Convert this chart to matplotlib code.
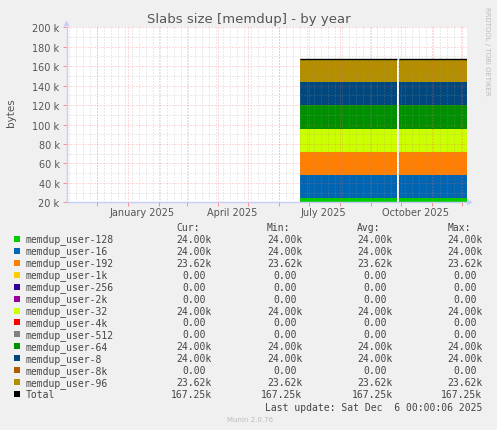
import matplotlib
matplotlib.use("Agg")
import matplotlib.pyplot as plt
import matplotlib.dates as mdates
from matplotlib.patches import Rectangle, Polygon
import numpy as np
import datetime as dt

plt.rcParams["lines.scale_dashes"] = False

# ---------------- data ----------------
names = ["memdup_user-128", "memdup_user-16", "memdup_user-192", "memdup_user-1k",
         "memdup_user-256", "memdup_user-2k", "memdup_user-32", "memdup_user-4k",
         "memdup_user-512", "memdup_user-64", "memdup_user-8", "memdup_user-8k",
         "memdup_user-96"]
colors = ["#00CC00", "#0066B3", "#FF8000", "#FFCC00", "#330099", "#990099",
          "#CCFF00", "#FF0000", "#808080", "#008F00", "#00487D", "#B35A00",
          "#B38F00"]
values = [24000, 24000, 23625, 0, 0, 0, 24000, 0, 0, 24000, 24000, 0, 23625]
cur_txt = ["24.00k", "24.00k", "23.62k", "0.00", "0.00", "0.00", "24.00k", "0.00",
           "0.00", "24.00k", "24.00k", "0.00", "23.62k"]
min_txt = cur_txt
avg_txt = cur_txt
max_txt = cur_txt
total_txt = "167.25k"
# data segments (start, end) - gap between them
segments = [("2025-06-22", "2025-09-27"), ("2025-09-29", "2025-12-06")]
x_start, x_end = "2024-11-01", "2025-12-06"
month_labels = [("2025-01-16", "January 2025"), ("2025-04-16", "April 2025"),
                ("2025-07-16", "July 2025"), ("2025-10-16", "October 2025")]
y_ticks = [20000, 40000, 60000, 80000, 100000, 120000, 140000, 160000, 180000, 200000]
y_ticklabels = ["20 k", "40 k", "60 k", "80 k", "100 k", "120 k", "140 k", "160 k",
                "180 k", "200 k"]

# ---------------- figure ----------------
W, H = 497, 431
fig = plt.figure(figsize=(W / 100, H / 100), dpi=100, facecolor="#F0F0F0")
L, R, T, B = 66.5, 466.5, 28.3, 203.3
ax = fig.add_axes([L / W, 1 - B / H, (R - L) / W, (B - T) / H])
ax.set_facecolor("white")

d = lambda s: mdates.date2num(dt.datetime.strptime(s, "%Y-%m-%d"))
ax.set_xlim(d(x_start), d(x_end))
ax.set_ylim(20000, 200000)

# stacked areas
for s0, s1 in segments:
    xs = [d(s0), d(s1)]
    base = 0.0
    for v, c in zip(values, colors):
        if v > 0:
            ax.fill_between(xs, [base, base], [base + v, base + v], color=c,
                            linewidth=0, zorder=2)
        base += v
    ax.plot(xs, [base, base], color="black", lw=1.0, zorder=4,
            solid_capstyle="butt")

# grid
dash = (0, (0.72, 1.44))
minor_c = (0.6, 0.6, 0.6, 0.4)
major_c = (1.0, 0.35, 0.35, 0.45)
for yv in range(30000, 200000, 20000):
    ax.axhline(yv, color=minor_c, lw=0.72, ls=dash, zorder=3)
for yv in y_ticks:
    ax.axhline(yv, color=major_c, lw=0.72, ls=dash, zorder=3)
day = dt.date(2024, 11, 3)
endd = dt.date(2025, 12, 6)
while day <= endd:
    ax.axvline(mdates.date2num(day), color=minor_c, lw=0.72, ls=dash, zorder=3)
    day += dt.timedelta(days=7)
months = []
y_, m_ = 2024, 12
while (y_, m_) <= (2025, 12):
    months.append(mdates.date2num(dt.date(y_, m_, 1)))
    m_ += 1
    if m_ > 12:
        m_ = 1
        y_ += 1
for mx in months:
    ax.axvline(mx, color=major_c, lw=0.72, ls=dash, zorder=3)

# axes styling
for sp in ["top", "right"]:
    ax.spines[sp].set_visible(False)
for sp in ["left", "bottom"]:
    ax.spines[sp].set_color("#C8CCF8")
    ax.spines[sp].set_linewidth(1.0)
    ax.spines[sp].set_zorder(5)

ax.set_yticks(y_ticks)
ax.set_yticklabels(y_ticklabels)
ax.tick_params(axis="y", length=3, width=0.7, color=(1, 0.3, 0.3, 0.6), pad=2,
               labelsize=7, labelcolor="#555555")
ax.set_xticks(months)
ax.set_xticklabels([])
ax.tick_params(axis="x", length=3, width=0.7, color=(1, 0.3, 0.3, 0.6))
for ds, lab in month_labels:
    ax.text(d(ds), -0.055, lab, transform=ax.get_xaxis_transform(), ha="center",
            va="center", fontsize=7, color="#555555", clip_on=False)

# axis arrows
fig.patches.append(Polygon([[L - 3, H - T + 1], [L + 3, H - T + 1], [L, H - T + 7]],
                           closed=True, transform=None, facecolor="#C8CCF8",
                           edgecolor="none"))
fig.patches.append(Polygon([[R + 0.5, H - B + 3], [R + 0.5, H - B - 3], [R + 6.5, H - B]],
                           closed=True, transform=None, facecolor="#C8CCF8",
                           edgecolor="none"))

# titles
fig.text(0.5, 1 - 19 / H, "Slabs size [memdup] - by year", ha="center", va="center",
         fontsize=9.5, color="#555555")
fig.text(11 / W, 1 - 113 / H, "bytes", rotation=90, ha="center", va="center",
         fontsize=7.5, color="#555555")
fig.text(487 / W, 1 - 7 / H, "RRDTOOL / TOBI OETIKER", rotation=270, ha="center",
         va="top", fontsize=5, color="#BBBBBB")

# legend
mono = "DejaVu Sans Mono"
fs = 7.0
tc = "#444444"
def ty(y):
    return 1 - y / H
hy = 228.3
fig.text(176.7 / W, ty(hy), "Cur:", family=mono, fontsize=fs, color=tc, va="center")
fig.text(266.7 / W, ty(hy), "Min:", family=mono, fontsize=fs, color=tc, va="center")
fig.text(357.3 / W, ty(hy), "Avg:", family=mono, fontsize=fs, color=tc, va="center")
fig.text(447.3 / W, ty(hy), "Max:", family=mono, fontsize=fs, color=tc, va="center")

cw = 5.83
col_right = [211.7, 302.3, 392.7, 482.3]
rows = list(zip(names, colors, cur_txt, min_txt, avg_txt, max_txt))
rows.append(("Total", "#000000", total_txt, total_txt, total_txt, total_txt))
for i, (nm, c, cu, mi, av, ma) in enumerate(rows):
    y = 239.7 + i * 11.97
    fig.patches.append(Rectangle((14 / W, ty(y) - 3 / H), 6 / W, 6 / H,
                                 transform=fig.transFigure, facecolor=c,
                                 edgecolor="none"))
    fig.text(26 / W, ty(y), nm, family=mono, fontsize=fs, color=tc, va="center")
    for xr, v in zip(col_right, [cu, mi, av, ma]):
        off = 0 if v.endswith("k") else cw
        fig.text((xr - off) / W, ty(y), v, family=mono, fontsize=fs, color=tc,
                 va="center", ha="right")

fig.text(482.3 / W, ty(407.7), "Last update: Sat Dec  6 00:00:06 2025", family=mono,
         fontsize=fs, color=tc, va="center", ha="right")
fig.text(250 / W, ty(420.5), "Munin 2.0.76", fontsize=5, color="#BBBBBB",
         ha="center", va="center")

fig.savefig("out.png", dpi=100, facecolor="#F0F0F0")
